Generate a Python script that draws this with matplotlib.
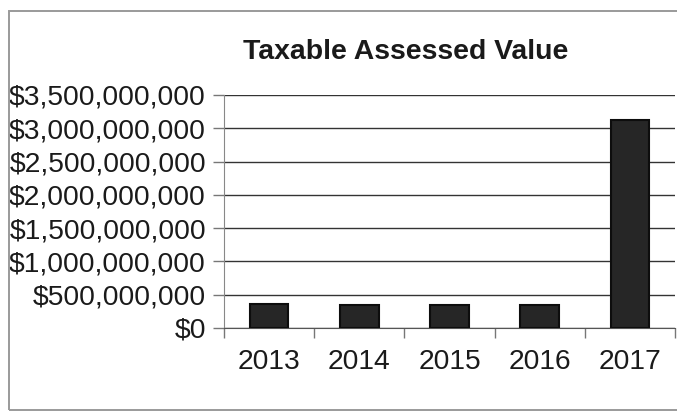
import matplotlib
matplotlib.use("Agg")
import matplotlib.pyplot as plt
from matplotlib.patches import Rectangle
from matplotlib.ticker import FuncFormatter, MultipleLocator, FixedLocator

plt.rcParams['font.family'] = ['Liberation Sans', 'DejaVu Sans']

years = ["2013", "2014", "2015", "2016", "2017"]
assessed_values = [355_000_000, 353_000_000, 345_000_000, 348_000_000, 3_130_000_000]

fig = plt.figure(figsize=(6.77, 4.13), dpi=100)
fig.patch.set_facecolor("white")

# outer chart border (runs off the right edge)
fig.add_artist(Rectangle((9 / 677, 3 / 413), 1.2, 399 / 413, transform=fig.transFigure,
                         fill=False, edgecolor="#9a9a9a", linewidth=1.4))

ax = fig.add_axes([224 / 677, 85 / 413, 451 / 677, 233 / 413])
x = range(len(years))
ax.bar(x, assessed_values, width=0.43, color="#262626", edgecolor="#0d0d0d",
       linewidth=1.5, zorder=3)

ax.set_xlim(-0.5, len(years) - 0.5)
ax.set_ylim(0, 3_500_000_000)
ax.yaxis.set_major_locator(MultipleLocator(500_000_000))
ax.yaxis.set_major_formatter(FuncFormatter(lambda v, p: "${:,.0f}".format(v)))
ax.grid(axis="y", color="#333333", linewidth=1.0, zorder=1)
ax.set_axisbelow(True)

ax.set_xticks(list(x))
ax.set_xticklabels(years)
ax.xaxis.set_minor_locator(FixedLocator([i - 0.5 for i in range(len(years) + 1)]))
ax.tick_params(axis="x", which="major", length=0, pad=15, labelsize=20.3,
               labelcolor="#1a1a1a")
ax.tick_params(axis="x", which="minor", length=7, color="#777777", width=1)
ax.tick_params(axis="y", length=8, width=1, color="#777777", pad=5,
               labelsize=20.3, labelcolor="#1a1a1a")

for side in ("top", "right"):
    ax.spines[side].set_visible(False)
ax.spines["left"].set_color("#888888")
ax.spines["bottom"].set_color("#555555")

fig.text(406 / 677, 1 - 52 / 413, "Taxable Assessed Value", ha="center", va="center",
         fontsize=20.4, fontweight="bold", color="#1a1a1a")

fig.savefig("out.png", dpi=100, facecolor="white")
